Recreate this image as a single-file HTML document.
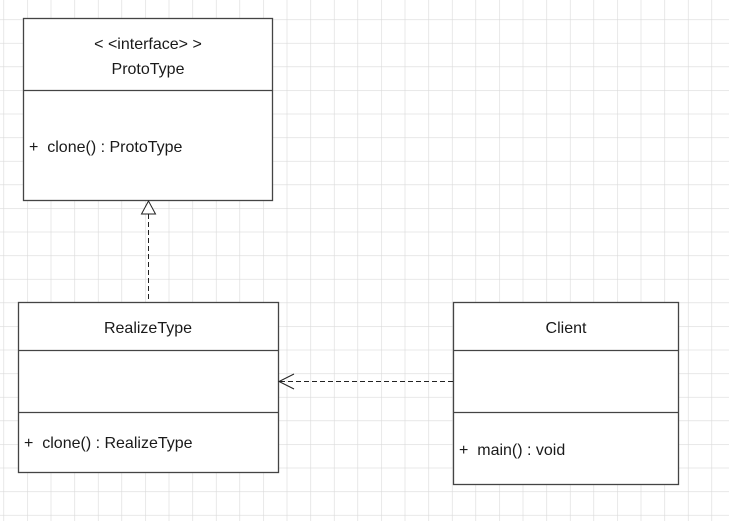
<!DOCTYPE html>
<html><head><style>
html,body{margin:0;padding:0;background:#fff;}
svg{display:block;}
text{font-family:"Liberation Sans","Noto Sans CJK SC",sans-serif;font-size:16px;fill:#1a1a1a;}
</style></head><body>
<svg width="729" height="521" xmlns="http://www.w3.org/2000/svg">
<defs>
<pattern id="g" x="3.5" y="19.3" width="23.6" height="23.6" patternUnits="userSpaceOnUse">
<path d="M0 0H23.6M0 0V23.6" stroke="#dadada" stroke-width="1.2" fill="none"/>
</pattern>
</defs>
<rect width="729" height="521" fill="url(#g)"/>
<g stroke="#444" stroke-width="1.3" fill="#fff">
<rect x="23.5" y="18.5" width="249" height="182"/>
<line x1="23.5" y1="90.5" x2="272.5" y2="90.5"/>
<rect x="18.5" y="302.5" width="260" height="170"/>
<line x1="18.5" y1="350.5" x2="278.5" y2="350.5"/>
<line x1="18.5" y1="412.5" x2="278.5" y2="412.5"/>
<rect x="453.5" y="302.5" width="225" height="182"/>
<line x1="453.5" y1="350.5" x2="678.5" y2="350.5"/>
<line x1="453.5" y1="412.5" x2="678.5" y2="412.5"/>
</g>
<g stroke="#222" stroke-width="1" fill="none">
<line x1="148.5" y1="214" x2="148.5" y2="302" stroke-dasharray="5,3"/>
<polygon points="148.5,201 141.5,214 155.5,214" fill="#fff"/>
<line x1="280" y1="381.5" x2="453" y2="381.5" stroke-dasharray="5,3"/>
<polyline points="294,374 279,381.5 294,389"/>
</g>
<text x="148" y="49" text-anchor="middle">&lt; &lt;interface&gt; &gt;</text>
<text x="148" y="74" text-anchor="middle">ProtoType</text>
<text x="29" y="152">+&#160;&#160;clone() : ProtoType</text>
<text x="148" y="333" text-anchor="middle">RealizeType</text>
<text x="24" y="448">+&#160;&#160;clone() : RealizeType</text>
<text x="566" y="333" text-anchor="middle">Client</text>
<text x="459" y="455">+&#160;&#160;main() : void</text>
</svg>
</body></html>
